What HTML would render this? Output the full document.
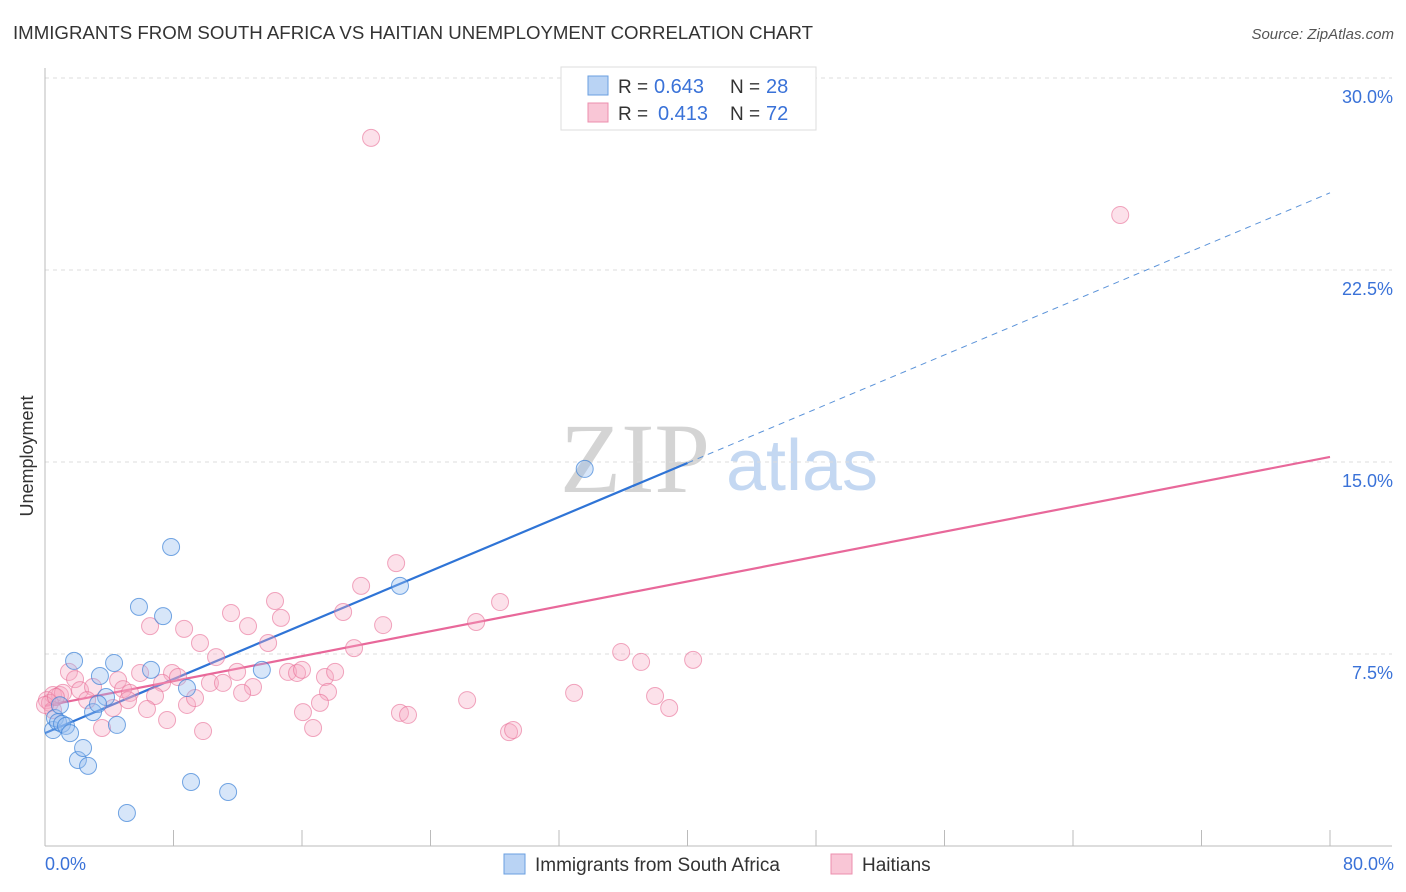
<!DOCTYPE html>
<html><head><meta charset="utf-8"><style>
body{margin:0;background:#fff;font-family:"Liberation Sans",sans-serif}
svg{display:block}
</style></head><body>
<svg id="chart" width="1406" height="892">
<text x="13" y="39" font-size="18" fill="#333" textLength="800" lengthAdjust="spacingAndGlyphs">IMMIGRANTS FROM SOUTH AFRICA VS HAITIAN UNEMPLOYMENT CORRELATION CHART</text>
<text x="1394" y="39" font-size="15" fill="#555" font-style="italic" text-anchor="end">Source: ZipAtlas.com</text>
<text x="33" y="456" font-size="18" fill="#333" text-anchor="middle" transform="rotate(-90 33 456)">Unemployment</text>
<g>
<text x="635" y="492" font-size="100" fill="#d4d4d4" font-family="Liberation Serif,serif" text-anchor="middle">ZIP</text>
<text x="802" y="490" font-size="72" fill="#c4d8f2" text-anchor="middle">atlas</text>
</g>
<g id="grid"></g><g id="axes"></g><g id="trends"></g><g id="pts"></g>
<g>
<rect x="561" y="67" width="255" height="63" fill="#fff" stroke="#ddd"/>
<rect x="588" y="76" width="20" height="19" fill="#b9d3f4" stroke="#6a9fe0"/>
<rect x="588" y="103" width="20" height="19" fill="#f9c6d6" stroke="#ec8fae"/>
<text x="618" y="93" font-size="19" fill="#333">R =</text>
<text x="654" y="93" font-size="20" fill="#3a72d8">0.643</text>
<text x="730" y="93" font-size="19" fill="#333">N =</text>
<text x="766" y="93" font-size="20" fill="#3a72d8">28</text>
<text x="618" y="120" font-size="19" fill="#333">R =</text>
<text x="658" y="120" font-size="20" fill="#3a72d8">0.413</text>
<text x="730" y="120" font-size="19" fill="#333">N =</text>
<text x="766" y="120" font-size="20" fill="#3a72d8">72</text>
</g>
<g>
<rect x="504" y="854" width="21" height="20" fill="#b9d3f4" stroke="#6a9fe0"/>
<text x="535" y="871" font-size="19" fill="#333">Immigrants from South Africa</text>
<rect x="831" y="854" width="21" height="20" fill="#f9c6d6" stroke="#ec8fae"/>
<text x="862" y="871" font-size="19" fill="#333">Haitians</text>
</g>
</svg>
<script>
const yTicks=[7.5,15,22.5,30];
const yTickLabels=["7.5%","15.0%","22.5%","30.0%"];
const xTickLabels=["0.0%","80.0%"];
const blueX=[0.5,0.62,0.81,1.06,1.31,1.56,1.81,2.05,2.37,2.68,2.99,3.42,3.8,4.3,4.48,5.85,6.6,7.35,7.85,8.84,9.09,11.4,5.1,13.5,22.1,33.6,0.93,3.3];
const blueY=[4.53,5.0,4.84,4.77,4.69,4.41,7.23,3.36,3.83,3.13,5.23,6.64,5.82,7.15,4.73,9.34,6.88,8.98,11.68,6.17,2.5,2.11,1.29,6.88,10.16,14.73,5.5,5.55];
const pinkX=[6.54,8.66,9.65,11.58,12.64,14.32,14.69,13.89,10.65,19.68,21.86,18.56,21.05,19.24,1.49,1.87,2.18,2.99,2.62,4.55,4.86,5.92,7.91,8.28,7.29,5.29,5.17,6.85,6.35,4.23,3.55,7.6,8.84,9.34,9.84,10.27,11.08,11.96,12.95,12.27,15.13,15.69,16.0,17.43,18.06,17.62,17.12,16.06,16.69,22.1,22.6,0.5,0.93,0.12,0.31,1.12,20.3,66.94,26.28,26.84,28.33,28.89,29.14,32.94,35.87,37.11,37.98,38.86,40.35,0.5,0,0.68];
const pinkY=[8.59,8.48,7.93,9.1,8.59,9.57,8.91,7.93,7.38,10.16,11.05,9.14,8.63,7.73,6.8,6.52,6.09,6.21,5.7,6.48,6.13,6.76,6.76,6.6,6.37,5.98,5.7,5.86,5.35,5.39,4.61,4.92,5.51,5.78,4.49,6.37,6.37,6.8,6.21,5.98,6.8,6.76,6.88,6.6,6.8,6.02,5.59,5.23,4.61,5.2,5.12,5.9,5.9,5.7,5.59,5.98,27.66,24.65,5.7,8.75,9.53,4.45,4.53,5.98,7.58,7.19,5.86,5.39,7.27,5.31,5.51,5.82];
const blueTrend=[4.41,0.2638]; // intercept, slope
const pinkTrend=[5.47,0.1216];
const NS="http://www.w3.org/2000/svg";
const X=v=>45+v*(1330-45)/80, Y=v=>846-v*25.6;
function mk(tag,attrs,parent){const e=document.createElementNS(NS,tag);for(const k in attrs)e.setAttribute(k,attrs[k]);document.getElementById(parent).appendChild(e);return e;}
yTicks.forEach((t,i)=>{
 const g=mk('line',{x1:45,x2:1392,y1:Y(t),y2:Y(t),stroke:'#ddd','stroke-dasharray':'4,4'},'grid');
 
 
 const l=mk('text',{x:1393,y:Y(t)+25,'font-size':18,fill:'#3a72d8','text-anchor':'end'},'grid');l.textContent=yTickLabels[i];
 
 
});
mk('line',{x1:45,x2:1392,y1:Y(0),y2:Y(0),stroke:'#bbb'},'axes');
mk('line',{x1:45,x2:45,y1:68,y2:Y(0),stroke:'#bbb'},'axes');
for(let i=0;i<=10;i++){const t=mk('line',{x1:X(i*8),x2:X(i*8),y1:830,y2:846,stroke:'#bbb'},'axes');
 
 }
[[0,'start',45],[80,'end',1394]].forEach((d,i)=>{const l=mk('text',{x:d[2],y:870,'font-size':18,fill:'#3a72d8','text-anchor':d[1]},'axes');l.textContent=xTickLabels[i];
 
 });
function pts(xs,ys,fill,stroke,name){xs.forEach((x,i)=>{const c=mk('circle',{cx:X(x),cy:Y(ys[i]),r:8.5,fill:fill,stroke:stroke,'stroke-width':1},'pts');
 
 });}
pts(pinkX,pinkY,'rgba(246,170,195,0.35)','rgba(232,110,150,0.6)','haitian-point');
pts(blueX,blueY,'rgba(150,190,240,0.38)','rgba(60,130,215,0.7)','south-africa-point');
const b1=mk('line',{x1:X(0),y1:Y(blueTrend[0]),x2:X(40),y2:Y(blueTrend[0]+40*blueTrend[1]),stroke:'#2f74d6','stroke-width':2.2},'trends');


const b2=mk('line',{x1:X(40),y1:Y(blueTrend[0]+40*blueTrend[1]),x2:X(80),y2:Y(blueTrend[0]+80*blueTrend[1]),stroke:'#5b93d9','stroke-width':1,'stroke-dasharray':'6,5'},'trends');


const p1=mk('line',{x1:X(0),y1:Y(pinkTrend[0]),x2:X(80),y2:Y(pinkTrend[0]+80*pinkTrend[1]),stroke:'#e8689a','stroke-width':2.2},'trends');


</script>
</body></html>
